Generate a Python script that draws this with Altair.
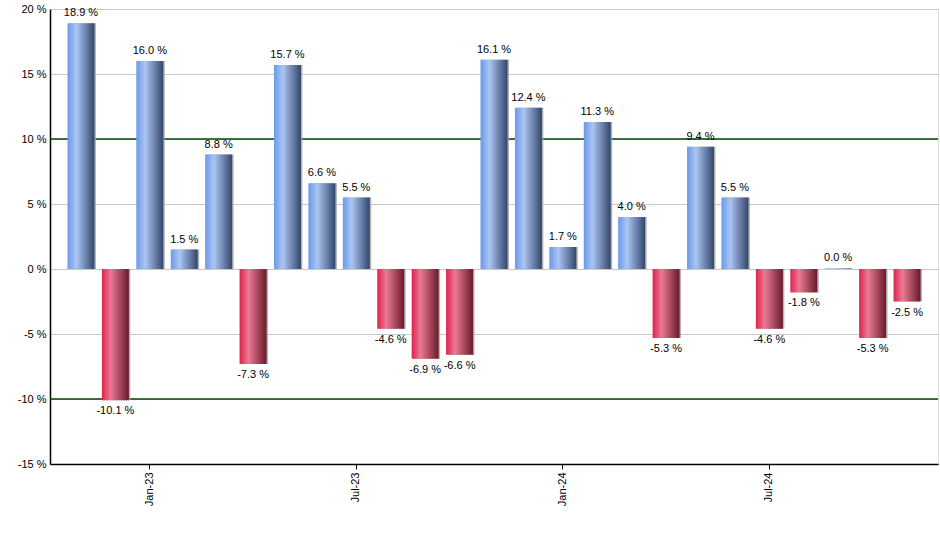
import altair as alt
import pandas as pd

months = ["Nov-22", "Dec-22", "Jan-23", "Feb-23", "Mar-23", "Apr-23", "May-23", "Jun-23",
          "Jul-23", "Aug-23", "Sep-23", "Oct-23", "Nov-23", "Dec-23", "Jan-24", "Feb-24",
          "Mar-24", "Apr-24", "May-24", "Jun-24", "Jul-24", "Aug-24", "Sep-24", "Oct-24", "Nov-24"]
returns = [18.9, -10.1, 16.0, 1.5, 8.8, -7.3, 15.7, 6.6, 5.5, -4.6, -6.9, -6.6, 16.1, 12.4,
           1.7, 11.3, 4.0, -5.3, 9.4, 5.5, -4.6, -1.8, 0.04, -5.3, -2.5]
labels = ["18.9 %", "-10.1 %", "16.0 %", "1.5 %", "8.8 %", "-7.3 %", "15.7 %", "6.6 %", "5.5 %",
          "-4.6 %", "-6.9 %", "-6.6 %", "16.1 %", "12.4 %", "1.7 %", "11.3 %", "4.0 %", "-5.3 %",
          "9.4 %", "5.5 %", "-4.6 %", "-1.8 %", "0.0 %", "-5.3 %", "-2.5 %"]
tick_months = ["Jan-23", "Jul-23", "Jan-24", "Jul-24"]
y_ticks = [-15, -10, -5, 0, 5, 10, 15, 20]
green_lines = [-10, 10]

df = pd.DataFrame({"month": months, "ret": returns, "label": labels})
FONT = "Liberation Sans"

x = alt.X("month:N", sort=months,
          scale=alt.Scale(paddingInner=0.216, paddingOuter=0.508),
          axis=alt.Axis(values=tick_months, labelAngle=-90, title=None, domainColor="black",
                        tickColor="black", tickSize=5, labelFont=FONT, labelFontSize=11,
                        labelColor="black", labelPadding=3, grid=False, domainWidth=1.5))
yscale = alt.Scale(domain=[-15, 20], nice=False, zero=False)
y = alt.Y("ret:Q", scale=yscale,
          axis=alt.Axis(values=y_ticks, labelExpr="datum.value + ' %'", title=None,
                        domainColor="black", domainWidth=1.5, ticks=False, labelFont=FONT,
                        labelFontSize=11, labelColor="black", labelPadding=4,
                        grid=True, gridColor="#c8c8c8", gridWidth=1))

base = alt.Chart(df)

blue = alt.Gradient(gradient="linear", x1=0, x2=1, y1=0, y2=0,
                    stops=[alt.GradientStop(offset=0, color="#6b98e8"),
                           alt.GradientStop(offset=0.33, color="#aac6f3"),
                           alt.GradientStop(offset=1, color="#33466b")])
red = alt.Gradient(gradient="linear", x1=0, x2=1, y1=0, y2=0,
                   stops=[alt.GradientStop(offset=0, color="#e0224c"),
                          alt.GradientStop(offset=0.33, color="#e97a93"),
                          alt.GradientStop(offset=1, color="#6a1a2b")])

gl = alt.Chart(pd.DataFrame({"v": green_lines})).mark_rule(color="#004a00", strokeWidth=1.3).encode(
    y=alt.Y("v:Q", scale=yscale))

shadow = base.mark_bar(color="#a0a0a0", xOffset=1.5, opacity=0.8).encode(
    x=x, y=y, y2=alt.datum(0))
pos = base.transform_filter("datum.ret >= 0").mark_bar(color=blue).encode(
    x=x, y=y, y2=alt.datum(0))
neg = base.transform_filter("datum.ret < 0").mark_bar(color=red).encode(
    x=x, y=y, y2=alt.datum(0))
pos_t = base.transform_filter("datum.ret >= 0").mark_text(
    baseline="bottom", dy=-5, font=FONT, fontSize=11, color="black").encode(
    x=x, y=y, text="label:N")
neg_t = base.transform_filter("datum.ret < 0").mark_text(
    baseline="top", dy=5, font=FONT, fontSize=11, color="black").encode(
    x=x, y=y, text="label:N")

chart = alt.layer(gl, shadow, pos, neg, pos_t, neg_t).properties(
    width=888, height=455,
    autosize=alt.AutoSizeParams(type="none"),
    padding={"left": 50, "top": 9, "right": 2, "bottom": 86},
).configure_view(stroke=None).configure(background="white")

chart.save("out.html", embed_options={"renderer": "svg", "actions": False})
